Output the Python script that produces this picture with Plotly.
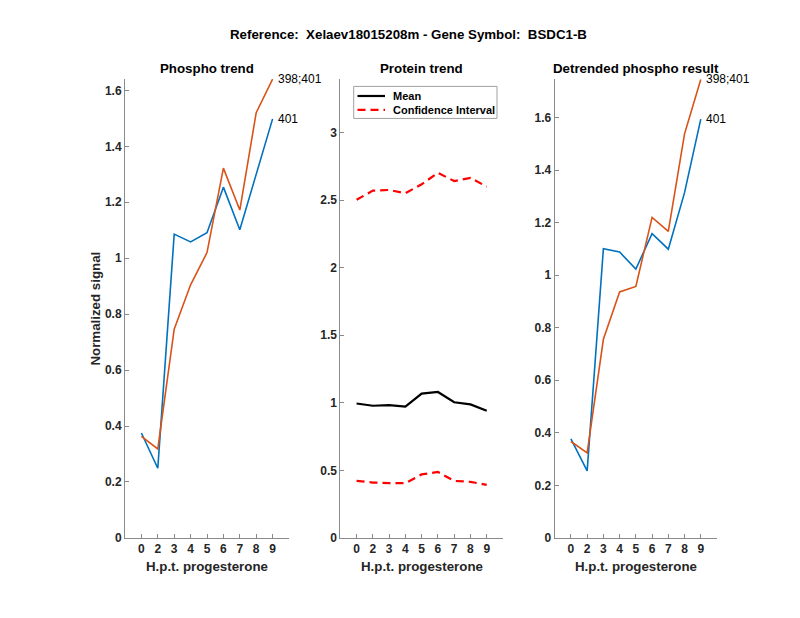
import plotly.graph_objects as go

W, H = 800, 618

hours = ["0", "2", "3", "4", "5", "6", "7", "8", "9"]
pos = list(range(1, 10))

phospho_401 = [0.375, 0.249, 1.086, 1.058, 1.091, 1.254, 1.102, 1.300, 1.498]
phospho_398_401 = [0.363, 0.318, 0.746, 0.905, 1.020, 1.322, 1.172, 1.520, 1.640]

protein_mean = [0.995, 0.978, 0.983, 0.971, 1.068, 1.080, 1.004, 0.988, 0.941]
protein_ci_low = [0.422, 0.410, 0.405, 0.405, 0.470, 0.488, 0.422, 0.415, 0.393]
protein_ci_high = [2.502, 2.570, 2.575, 2.551, 2.617, 2.702, 2.641, 2.665, 2.599]

detr_401 = [0.377, 0.255, 1.101, 1.088, 1.023, 1.158, 1.099, 1.314, 1.594]
detr_398_401 = [0.367, 0.324, 0.756, 0.936, 0.957, 1.220, 1.167, 1.538, 1.745]

legend_labels = ["Mean", "Confidence Interval"]

BLUE = "#0072BD"
ORANGE = "#D95319"
RED = "#FF0000"
FONT = "Liberation Sans"
TXT = "#262626"
AX = "#8a8a8a"
DASH = "8px,5px"

def px_x(x):
    return x / W

def px_y(y):
    return 1 - y / H

top, bottom = 71.7, 536
ydom = [px_y(bottom), px_y(top)]
xdoms = [[px_x(117), px_x(281)], [px_x(332.3), px_x(495)], [px_x(546.7), px_x(709)]]

fig = go.Figure()

# left panel
fig.add_trace(go.Scatter(x=pos, y=phospho_401, mode="lines", line=dict(color=BLUE, width=1.6),
                         xaxis="x", yaxis="y", showlegend=False))
fig.add_trace(go.Scatter(x=pos, y=phospho_398_401, mode="lines", line=dict(color=ORANGE, width=1.6),
                         xaxis="x", yaxis="y", showlegend=False))
# middle panel
fig.add_trace(go.Scatter(x=pos, y=protein_mean, mode="lines", name=legend_labels[0],
                         line=dict(color="black", width=2.2), xaxis="x2", yaxis="y2", showlegend=False))
fig.add_trace(go.Scatter(x=pos, y=protein_ci_low, mode="lines", name=legend_labels[1],
                         line=dict(color=RED, width=2.2, dash=DASH), xaxis="x2", yaxis="y2",
                         showlegend=False))
fig.add_trace(go.Scatter(x=pos, y=protein_ci_high, mode="lines", name=legend_labels[1],
                         line=dict(color=RED, width=2.2, dash=DASH), xaxis="x2", yaxis="y2",
                         showlegend=False))
# right panel
fig.add_trace(go.Scatter(x=pos, y=detr_401, mode="lines", line=dict(color=BLUE, width=1.6),
                         xaxis="x3", yaxis="y3", showlegend=False))
fig.add_trace(go.Scatter(x=pos, y=detr_398_401, mode="lines", line=dict(color=ORANGE, width=1.6),
                         xaxis="x3", yaxis="y3", showlegend=False))

tickfont = dict(family=FONT, size=12, color=TXT, weight="bold")

def xax(i):
    return dict(domain=xdoms[i], range=[0, 10], tickmode="array", tickvals=pos, ticktext=hours,
                showline=True, linecolor=AX, linewidth=1, ticks="inside", ticklen=4, tickcolor=AX,
                showgrid=False, zeroline=False, tickfont=tickfont, fixedrange=True,
                anchor=["y", "y2", "y3"][i])

def yax(i, rng, tv, tt):
    return dict(domain=ydom, range=rng, tickmode="array", tickvals=tv, ticktext=tt,
                showline=True, linecolor=AX, linewidth=1, ticks="inside", ticklen=4, tickcolor=AX,
                showgrid=False, zeroline=False, tickfont=tickfont, fixedrange=True,
                anchor=["x", "x2", "x3"][i])

t16 = [0, 0.2, 0.4, 0.6, 0.8, 1, 1.2, 1.4, 1.6]
t16l = ["0", "0.2", "0.4", "0.6", "0.8", "1", "1.2", "1.4", "1.6"]
t3 = [0, 0.5, 1, 1.5, 2, 2.5, 3]
t3l = ["0", "0.5", "1", "1.5", "2", "2.5", "3"]

anns = []
def ann(text, x, y, size=13.3, bold=True, xanchor="center", yanchor="middle", color="black", **kw):
    anns.append(dict(text=text, x=x, y=y, xref="paper", yref="paper", showarrow=False,
                     xanchor=xanchor, yanchor=yanchor,
                     font=dict(family=FONT, size=size, color=color,
                               weight="bold" if bold else "normal"), **kw))

ann("Reference:  Xelaev18015208m - Gene Symbol:  BSDC1-B", px_x(400), px_y(27))
ann("Phospho trend", px_x(199), px_y(61))
ann("Protein trend", px_x(413.5), px_y(61))
ann("Detrended phospho result", px_x(627.5), px_y(61))
for cx in [199, 413.5, 627.5]:
    ann("H.p.t. progesterone", px_x(cx), px_y(565), color=TXT)
ann("Normalized signal", px_x(88), px_y(304), textangle=-90, color=TXT)

# end-of-line labels
for xr, yr, vals, label in [("x", "y", phospho_398_401, "398;401"), ("x", "y", phospho_401, "401"),
                            ("x3", "y3", detr_398_401, "398;401"), ("x3", "y3", detr_401, "401")]:
    anns.append(dict(text=label, x=pos[-1], y=vals[-1], xref=xr, yref=yr, showarrow=False,
                     xanchor="left", yanchor="middle", xshift=3,
                     font=dict(family=FONT, size=12, color="black")))

# legend box (middle panel)
shapes = [
    dict(type="rect", xref="paper", yref="paper", x0=px_x(345.7), x1=px_x(489),
         y0=px_y(111.7), y1=px_y(79.3), line=dict(color="#a0a0a0", width=1), fillcolor="white",
         layer="above"),
    dict(type="line", xref="paper", yref="paper", x0=px_x(349.5), x1=px_x(377),
         y0=px_y(89), y1=px_y(89), line=dict(color="black", width=2.2), layer="above"),
    dict(type="line", xref="paper", yref="paper", x0=px_x(349.5), x1=px_x(377),
         y0=px_y(103), y1=px_y(103), line=dict(color=RED, width=2.2, dash=DASH), layer="above"),
]
ann(legend_labels[0], px_x(383), px_y(89), size=11, xanchor="left")
ann(legend_labels[1], px_x(383), px_y(103), size=11, xanchor="left")

fig.update_layout(
    width=W, height=H, margin=dict(l=0, r=0, t=0, b=0),
    paper_bgcolor="white", plot_bgcolor="white",
    xaxis=xax(0), xaxis2=xax(1), xaxis3=xax(2),
    yaxis=yax(0, [0, 1.641], t16, t16l),
    yaxis2=yax(1, [0, 3.397], t3, t3l),
    yaxis3=yax(2, [0, 1.747], t16, t16l),
    showlegend=False,
    annotations=anns, shapes=shapes,
)
fig.write_html("out.html")
